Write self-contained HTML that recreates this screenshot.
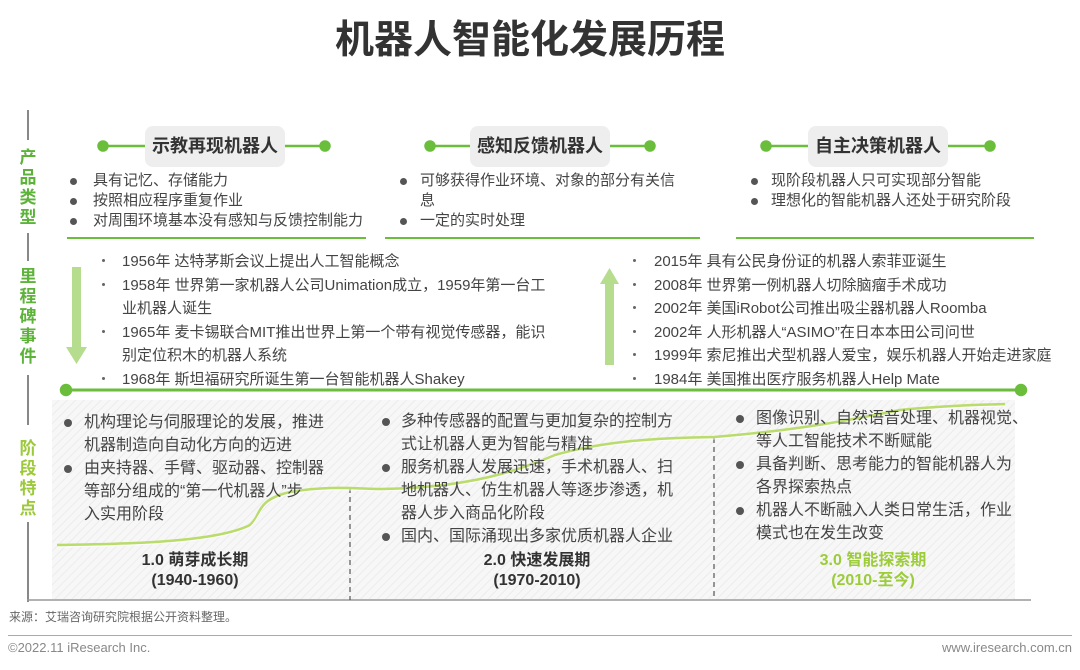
<!DOCTYPE html>
<html><head><meta charset="utf-8"><style>
*{margin:0;padding:0;box-sizing:border-box}
body{width:1080px;height:670px;background:#fff;position:relative;overflow:hidden;font-family:"Liberation Sans","Noto Sans CJK SC",sans-serif;color:#444}
.a{position:absolute;white-space:nowrap}
.t{font-size:15px;line-height:20px;color:#444}
.b{font-size:16px;letter-spacing:0px;line-height:23px;color:#444}
.hb{position:absolute;background:#eee;border-radius:8px;font-weight:bold;font-size:18px;color:#333;text-align:center;line-height:41px;height:41px}
.vl{position:absolute;left:27px;width:1.5px;background:#888}
.vt{position:absolute;left:18px;width:20px;font-size:17px;font-weight:bold;line-height:20px;text-align:center}
.dot{position:absolute;width:7px;height:7px;border-radius:50%;background:#555}
.sd{position:absolute;width:3px;height:3px;border-radius:50%;background:#666}
</style></head><body>
<div class="a" style="left:0;width:1060px;text-align:center;top:16px;font-size:39px;font-weight:bold;color:#333;line-height:50px">机器人智能化发展历程</div>

<div class="vl" style="top:110px;height:30px"></div>
<div class="vt" style="top:148px;color:#5db33a">产<br>品<br>类<br>型</div>
<div class="vl" style="top:233px;height:28px"></div>
<div class="vt" style="top:267px;color:#5db33a">里<br>程<br>碑<br>事<br>件</div>
<div class="vl" style="top:375px;height:50px"></div>
<div class="vt" style="top:439px;color:#9cc93a">阶<br>段<br>特<br>点</div>
<div class="vl" style="top:522px;height:80px"></div>

<svg class="a" style="left:0;top:0" width="1080" height="670">
<defs><pattern id="h" width="6" height="6" patternUnits="userSpaceOnUse" patternTransform="rotate(45)"><rect width="6" height="6" fill="#f7f7f7"/><line x1="0" y1="0" x2="0" y2="6" stroke="#ececec" stroke-width="2"/></pattern></defs>
<rect x="52" y="400" width="963" height="199" fill="url(#h)"/>
<line x1="27" y1="600" x2="1031" y2="600" stroke="#999" stroke-width="1.5"/>
<line x1="350" y1="488" x2="350" y2="600" stroke="#555" stroke-width="1.2" stroke-dasharray="5,4"/>
<line x1="714" y1="438" x2="714" y2="600" stroke="#555" stroke-width="1.2" stroke-dasharray="5,4"/>
<path d="M57 545 C150 544 220 540 250 525 C262 515 255 500 290 492 C330 485 360 489 380 489 C470 488 520 470 555 455 C600 442 650 438 714 437 C800 430 850 420 900 410 C950 405 980 405 1005 404" fill="none" stroke="#b9dc6a" stroke-width="2.5"/>
<path d="M57 547 C150 546 220 542 250 527 C262 517 257 502 290 494 C330 487 360 491 380 491 C470 490 520 472 555 457 C600 444 650 440 714 439 C800 432 850 422 900 412 C950 407 980 407 1005 406" fill="none" stroke="#fff" stroke-width="0.8"/>
<g stroke="#6bbd3c" stroke-width="2.5" fill="#6bbd3c">
<line x1="103" y1="146" x2="145" y2="146"/><circle cx="103" cy="146" r="4.5"/>
<line x1="285" y1="146" x2="325" y2="146"/><circle cx="325" cy="146" r="4.5"/>
<line x1="430" y1="146" x2="470" y2="146"/><circle cx="430" cy="146" r="4.5"/>
<line x1="610" y1="146" x2="650" y2="146"/><circle cx="650" cy="146" r="4.5"/>
<line x1="766" y1="146" x2="808" y2="146"/><circle cx="766" cy="146" r="4.5"/>
<line x1="948" y1="146" x2="990" y2="146"/><circle cx="990" cy="146" r="4.5"/>
<line x1="65" y1="390" x2="1022" y2="390" stroke-width="3"/><circle cx="66" cy="390" r="5"/><circle cx="1021" cy="390" r="5"/>
</g>
<g stroke="#6bbd3c" stroke-width="2"><line x1="67" y1="238" x2="366" y2="238"/><line x1="385" y1="238" x2="700" y2="238"/><line x1="736" y1="238" x2="1034" y2="238"/></g>
<g fill="#b6dc8e"><rect x="72" y="267" width="9" height="82"/><polygon points="66,347 87,347 76.5,364"/>
<rect x="605" y="282" width="9" height="83"/><polygon points="600,284 619,284 609.5,268"/></g>
</svg>

<div class="hb" style="left:145px;top:126px;width:140px">示教再现机器人</div>
<div class="hb" style="left:470px;top:126px;width:140px">感知反馈机器人</div>
<div class="hb" style="left:808px;top:126px;width:140px">自主决策机器人</div>

<div class="dot" style="left:70px;top:178px"></div><div class="dot" style="left:70px;top:198px"></div><div class="dot" style="left:70px;top:218px"></div>
<div class="a t" style="left:93px;top:171px">具有记忆、存储能力<br>按照相应程序重复作业<br>对周围环境基本没有感知与反馈控制能力</div>
<div class="dot" style="left:400px;top:178px"></div><div class="dot" style="left:400px;top:218px"></div>
<div class="a t" style="left:420px;top:171px">可够获得作业环境、对象的部分有关信<br>息<br>一定的实时处理</div>
<div class="dot" style="left:751px;top:178px"></div><div class="dot" style="left:751px;top:198px"></div>
<div class="a t" style="left:771px;top:171px">现阶段机器人只可实现部分智能<br>理想化的智能机器人还处于研究阶段</div>

<div class="a t" style="left:122px;top:250px;line-height:23.5px">1956年 达特茅斯会议上提出人工智能概念<br>1958年 世界第一家机器人公司Unimation成立，1959年第一台工<br>业机器人诞生<br>1965年 麦卡锡联合MIT推出世界上第一个带有视觉传感器，能识<br>别定位积木的机器人系统<br>1968年 斯坦福研究所诞生第一台智能机器人Shakey</div>
<div class="sd" style="left:102px;top:259px"></div><div class="sd" style="left:102px;top:283px"></div><div class="sd" style="left:102px;top:330px"></div><div class="sd" style="left:102px;top:377px"></div>
<div class="a t" style="left:654px;top:250px;line-height:23.5px">2015年 具有公民身份证的机器人索菲亚诞生<br>2008年 世界第一例机器人切除脑瘤手术成功<br>2002年 美国iRobot公司推出吸尘器机器人Roomba<br>2002年 人形机器人“ASIMO”在日本本田公司问世<br>1999年 索尼推出犬型机器人爱宝，娱乐机器人开始走进家庭<br>1984年 美国推出医疗服务机器人Help Mate</div>
<div class="sd" style="left:633px;top:259px"></div><div class="sd" style="left:633px;top:283px"></div><div class="sd" style="left:633px;top:306px"></div><div class="sd" style="left:633px;top:330px"></div><div class="sd" style="left:633px;top:353px"></div><div class="sd" style="left:633px;top:377px"></div>

<div class="dot" style="left:64px;top:419px;width:8px;height:8px"></div><div class="dot" style="left:64px;top:465px;width:8px;height:8px"></div>
<div class="a b" style="left:84px;top:411px">机构理论与伺服理论的发展，推进<br>机器制造向自动化方向的迈进<br>由夹持器、手臂、驱动器、控制器<br>等部分组成的“第一代机器人”步<br>入实用阶段</div>
<div class="dot" style="left:382px;top:418px;width:8px;height:8px"></div><div class="dot" style="left:382px;top:464px;width:8px;height:8px"></div><div class="dot" style="left:382px;top:533px;width:8px;height:8px"></div>
<div class="a b" style="left:401px;top:410px">多种传感器的配置与更加复杂的控制方<br>式让机器人更为智能与精准<br>服务机器人发展迅速，手术机器人、扫<br>地机器人、仿生机器人等逐步渗透，机<br>器人步入商品化阶段<br>国内、国际涌现出多家优质机器人企业</div>
<div class="dot" style="left:736px;top:415px;width:8px;height:8px"></div><div class="dot" style="left:736px;top:461px;width:8px;height:8px"></div><div class="dot" style="left:736px;top:507px;width:8px;height:8px"></div>
<div class="a b" style="left:756px;top:407px">图像识别、自然语音处理、机器视觉、<br>等人工智能技术不断赋能<br>具备判断、思考能力的智能机器人为<br>各界探索热点<br>机器人不断融入人类日常生活，作业<br>模式也在发生改变</div>

<div class="a" style="left:95px;width:200px;text-align:center;top:551px;font-size:16px;font-weight:bold;line-height:20px;color:#333">1.0 萌芽成长期<br>(1940-1960)</div>
<div class="a" style="left:437px;width:200px;text-align:center;top:551px;font-size:16px;font-weight:bold;line-height:20px;color:#333">2.0 快速发展期<br>(1970-2010)</div>
<div class="a" style="left:773px;width:200px;text-align:center;top:551px;font-size:16px;font-weight:bold;line-height:20px;color:#9ccc3a">3.0 智能探索期<br>(2010-至今)</div>

<div class="a" style="left:9px;top:608px;font-size:12px;color:#666">来源：艾瑞咨询研究院根据公开资料整理。</div>
<div class="a" style="left:8px;top:635px;width:1064px;height:1px;background:#aaa"></div>
<div class="a" style="left:8px;top:640px;font-size:13px;color:#888">©2022.11 iResearch Inc.</div>
<div class="a" style="right:8px;top:640px;font-size:13px;color:#888">www.iresearch.com.cn</div>
</body></html>
